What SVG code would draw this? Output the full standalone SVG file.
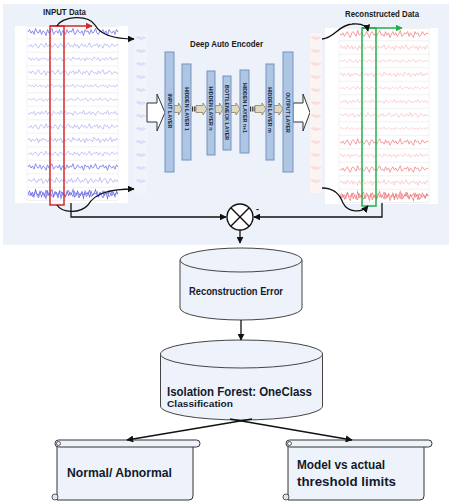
<svg xmlns="http://www.w3.org/2000/svg" xmlns:xlink="http://www.w3.org/1999/xlink" width="449" height="502" viewBox="0 0 449 502">
<style>
.wb{fill:none;stroke:#8383ee;stroke-width:0.5}
.wbd{fill:none;stroke:#6b6be8;stroke-width:0.7}
.wr{fill:none;stroke:#f29a9a;stroke-width:0.5}
.wrd{fill:none;stroke:#ee7f7f;stroke-width:0.7}
.wsb{fill:none;stroke:#c3c7f4;stroke-width:0.5}
.wsr{fill:none;stroke:#f5c4c4;stroke-width:0.5}
.frame{fill:none;stroke:#dedede;stroke-width:0.4}
.layer{fill:#aec5e4;stroke:#7393c0;stroke-width:1}
.lt{font-family:"Liberation Sans",Arial,sans-serif;font-weight:bold;font-size:5.3px;fill:#1f2a3c}
.tan{fill:#e2dabf;stroke:#7d7456;stroke-width:0.7}
.dots{stroke:#333;stroke-width:5;stroke-dasharray:1 0.8}
.hollow{fill:#fff;stroke:#333;stroke-width:1}
.con{fill:none;stroke:#111;stroke-width:1.3}
.cyl{fill:#eef3fb;stroke:#444;stroke-width:1}
.scr{fill:#eef3fb;stroke:#333;stroke-width:1}
.t{font-family:"Liberation Sans",Arial,sans-serif;font-weight:bold;fill:#1a1a1a}
.tb{font-family:"Liberation Sans",Arial,sans-serif;font-weight:bold;fill:#131a2c}
</style>
<defs>
<marker id="ah" viewBox="0 0 10 10" refX="9" refY="5" markerWidth="7" markerHeight="7" orient="auto" markerUnits="userSpaceOnUse"><path d="M0,0 L10,5 L0,10 z" fill="#111"/></marker>
<marker id="ahr" viewBox="0 0 10 10" refX="9" refY="5" markerWidth="7" markerHeight="7" orient="auto" markerUnits="userSpaceOnUse"><path d="M0,0 L10,5 L0,10 z" fill="#d42a2a"/></marker>
<marker id="ahg" viewBox="0 0 10 10" refX="9" refY="5" markerWidth="7" markerHeight="7" orient="auto" markerUnits="userSpaceOnUse"><path d="M0,0 L10,5 L0,10 z" fill="#22b04b"/></marker>
<polyline id="wa" points="0,0 1.5,-2 3,1 4.5,-1 6,2 7.5,-3 9,0 10.5,1 12,-2 13.5,2 15,-1 16.5,0 18,3 19.5,-2 21,1 22.5,-1 24,-3 25.5,2 27,0 28.5,-1 30,1 31.5,-2 33,3 34.5,-1 36,0 37.5,2 39,-2 40.5,1 42,-1 43.5,0 45,-3 46.5,2 48,1 49.5,-2 51,0 52.5,1 54,-1 55.5,3 57,-2 58.5,0 60,-1 61.5,2 63,-2 64.5,1 66,0 67.5,-3 69,1 70.5,2 72,-1 73.5,0 75,-2 76.5,1 78,-1 79.5,3 81,-2 82.5,0 84,1 85.5,-1 87,2 88.5,-2 90,0"/>
<polyline id="wb" points="0,0 1.5,1 3,-1 4.5,2 6,0 7.5,-2 9,1 10.5,3 12,-1 13.5,-2 15,0 16.5,2 18,-3 19.5,1 21,0 22.5,-1 24,2 25.5,1 27,-2 28.5,0 30,3 31.5,-1 33,-2 34.5,1 36,0 37.5,2 39,-1 40.5,-3 42,1 43.5,0 45,2 46.5,-2 48,1 49.5,-1 51,3 52.5,0 54,-2 55.5,1 57,-1 58.5,2 60,0 61.5,-3 63,2 64.5,1 66,-1 67.5,0 69,-2 70.5,2 72,-1 73.5,1 75,3 76.5,-2 78,0 79.5,-1 81,2 82.5,1 84,-2 85.5,0 87,1 88.5,-1 90,0"/>
<polyline id="ws" points="0,0 1,-1.5 2,1 3,-2 4,1.5 5,-1 6,2 7,-1.5 8,1 9,-1 10,0"/>
</defs>

<rect id="panel" x="3" y="4" width="446" height="241" fill="#edf2fa"/>

<g id="input-data">
<rect x="15" y="26" width="113" height="177" fill="#fff"/>
<path class="frame" d="M27,26.5 H118 M27,38.8 H118 M27,52.3 H118 M27,65.8 H118 M27,79.3 H118 M27,92.8 H118 M27,106.3 H118 M27,119.8 H118 M27,133.3 H118 M27,146.8 H118 M27,160.3 H118 M27,173.8 H118 M27,187.3 H118 M27,200.5 H118 M27,26.5 V200.5 M118,26.5 V200.5"/>
<use href="#wa" class="wbd" transform="translate(28,32) scale(1,1.2)"/>
<use href="#wb" class="wb" transform="translate(28,45.5) scale(1,0.9)"/>
<use href="#wa" class="wb" transform="translate(28,59) scale(-1,0.7) translate(-90,0)"/>
<use href="#wb" class="wb" transform="translate(28,72.5) scale(1,-0.9)"/>
<use href="#wa" class="wb" transform="translate(28,86) scale(1,0.6)"/>
<use href="#wb" class="wb" transform="translate(28,99.5) scale(-1,0.6) translate(-90,0)"/>
<use href="#wa" class="wb" transform="translate(28,113) scale(1,-0.8)"/>
<use href="#wb" class="wb" transform="translate(28,126.5) scale(1,0.9)"/>
<use href="#wa" class="wb" transform="translate(28,140) scale(-1,0.9) translate(-90,0)"/>
<use href="#wb" class="wb" transform="translate(28,153.5) scale(1,0.8)"/>
<use href="#wa" class="wbd" transform="translate(28,167) scale(1,1.1)"/>
<use href="#wb" class="wb" transform="translate(28,180.5) scale(-1,1) translate(-90,0)"/>
<use href="#wa" class="wbd" transform="translate(28,194) scale(1,1.5)"/>
<use href="#wb" class="wbd" transform="translate(28,194) scale(1,1.3)"/>
<rect x="50" y="26" width="14" height="179" fill="none" stroke="#d42a2a" stroke-width="1.5"/>
<line x1="50" y1="26" x2="92" y2="26" stroke="#d42a2a" stroke-width="1.5" marker-end="url(#ahr)"/>
<text class="t" x="43" y="15" font-size="8.5" textLength="43" lengthAdjust="spacingAndGlyphs">INPUT Data</text>
</g>

<g id="input-strip">
<rect x="135" y="33" width="12" height="160" fill="#f2f4fc"/>
<use href="#ws" class="wsb" transform="translate(136,38)"/>
<use href="#ws" class="wsb" transform="translate(136,51)"/>
<use href="#ws" class="wsb" transform="translate(136,64)"/>
<use href="#ws" class="wsb" transform="translate(136,77)"/>
<use href="#ws" class="wsb" transform="translate(136,90)"/>
<use href="#ws" class="wsb" transform="translate(136,103)"/>
<use href="#ws" class="wsb" transform="translate(136,116)"/>
<use href="#ws" class="wsb" transform="translate(136,129)"/>
<use href="#ws" class="wsb" transform="translate(136,142)"/>
<use href="#ws" class="wsb" transform="translate(136,155)"/>
<use href="#ws" class="wsb" transform="translate(136,168)"/>
<use href="#ws" class="wsb" transform="translate(136,181)"/>
</g>

<g id="encoder">
<text class="t" x="190" y="46.5" font-size="8.5" textLength="73" lengthAdjust="spacingAndGlyphs">Deep Auto Encoder</text>
<path class="hollow" d="M147,103 H157 V94 L165,112.5 L157,131 V122 H147 Z"/>
<path class="hollow" d="M293,103 H303 V94 L310,112.5 L303,131 V122 H293 Z"/>
<path class="tan" d="M174,105.5 H178.5 V103 L182,109 L178.5,115 V112.5 H174 Z"/>
<line class="dots" x1="192" y1="109" x2="196" y2="109"/>
<path class="tan" d="M196,105.5 H203 V103 L207,109 L203,115 V112.5 H196 Z"/>
<path class="tan" d="M215,105.5 H219.5 V103 L223,109 L219.5,115 V112.5 H215 Z"/>
<path class="tan" d="M231,105.5 H236 V103 L240,109 L236,115 V112.5 H231 Z"/>
<line class="dots" x1="250" y1="109" x2="255" y2="109"/>
<path class="tan" d="M255,105.5 H262 V103 L266,109 L262,115 V112.5 H255 Z"/>
<path class="tan" d="M274,105.5 H279 V103 L283,109 L279,115 V112.5 H274 Z"/>
</g>

<g id="input-layer"><rect class="layer" x="165" y="52" width="9" height="120"/><text class="lt" transform="translate(169.5,111) rotate(90)" text-anchor="middle" dominant-baseline="central">INPUT LAYER</text></g>
<g id="hidden-layer-1"><rect class="layer" x="182" y="64" width="9" height="96"/><text class="lt" transform="translate(186.5,109) rotate(90)" text-anchor="middle" dominant-baseline="central">HIDDEN LAYER 1</text></g>
<g id="hidden-layer-n"><rect class="layer" x="207" y="71" width="8" height="84"/><text class="lt" transform="translate(211,108.5) rotate(90)" text-anchor="middle" dominant-baseline="central">HIDDEN LAYER n</text></g>
<g id="bottleneck-layer"><rect class="layer" x="223" y="76" width="8" height="74"/><text class="lt" transform="translate(227,112.5) rotate(90)" text-anchor="middle" dominant-baseline="central">BOTTLENECK LAYER</text></g>
<g id="hidden-layer-n1"><rect class="layer" x="240" y="70" width="9" height="83"/><text class="lt" transform="translate(244.5,108) rotate(90)" text-anchor="middle" dominant-baseline="central">HIDDEN LAYER n+1</text></g>
<g id="hidden-layer-m"><rect class="layer" x="266" y="64" width="8" height="96"/><text class="lt" transform="translate(270,110) rotate(90)" text-anchor="middle" dominant-baseline="central">HIDDEN LAYER m</text></g>
<g id="output-layer"><rect class="layer" x="283" y="52" width="10" height="120"/><text class="lt" transform="translate(288,112.5) rotate(90)" text-anchor="middle" dominant-baseline="central">OUTPUT LAYER</text></g>

<g id="output-strip">
<rect x="310" y="33" width="12" height="160" fill="#fcf3f3"/>
<use href="#ws" class="wsr" transform="translate(311,38)"/>
<use href="#ws" class="wsr" transform="translate(311,51)"/>
<use href="#ws" class="wsr" transform="translate(311,64)"/>
<use href="#ws" class="wsr" transform="translate(311,77)"/>
<use href="#ws" class="wsr" transform="translate(311,90)"/>
<use href="#ws" class="wsr" transform="translate(311,103)"/>
<use href="#ws" class="wsr" transform="translate(311,116)"/>
<use href="#ws" class="wsr" transform="translate(311,129)"/>
<use href="#ws" class="wsr" transform="translate(311,142)"/>
<use href="#ws" class="wsr" transform="translate(311,155)"/>
<use href="#ws" class="wsr" transform="translate(311,168)"/>
<use href="#ws" class="wsr" transform="translate(311,181)"/>
</g>

<g id="reconstructed-data">
<rect x="325" y="28" width="113" height="176" fill="#fff"/>
<path class="frame" d="M339,28.5 H429 M339,40.8 H429 M339,54.3 H429 M339,67.8 H429 M339,81.3 H429 M339,94.8 H429 M339,108.3 H429 M339,121.8 H429 M339,135.3 H429 M339,148.8 H429 M339,162.3 H429 M339,175.8 H429 M339,189.3 H429 M339,202.5 H429 M339,28.5 V202.5 M429,28.5 V202.5"/>
<use href="#wb" class="wrd" transform="translate(340,34) scale(0.98,1.2)"/>
<use href="#wa" class="wr" transform="translate(340,47.5) scale(0.98,0.9)"/>
<use href="#wb" class="wr" transform="translate(340,61) scale(0.98,-0.6)"/>
<use href="#wa" class="wr" transform="translate(340,74.5) scale(-0.98,0.8) translate(-90,0)"/>
<use href="#wb" class="wr" transform="translate(340,88) scale(0.98,0.6)"/>
<use href="#wa" class="wr" transform="translate(340,101.5) scale(0.98,-0.7)"/>
<use href="#wb" class="wr" transform="translate(340,115) scale(-0.98,0.8) translate(-90,0)"/>
<use href="#wa" class="wr" transform="translate(340,128.5) scale(0.98,0.5)"/>
<use href="#wb" class="wrd" transform="translate(340,142) scale(0.98,1.1)"/>
<use href="#wa" class="wr" transform="translate(340,155.5) scale(-0.98,0.7) translate(-90,0)"/>
<use href="#wb" class="wrd" transform="translate(340,169) scale(0.98,1.1)"/>
<use href="#wa" class="wr" transform="translate(340,182.5) scale(0.98,0.9)"/>
<use href="#wb" class="wrd" transform="translate(340,196) scale(0.98,1.5)"/>
<use href="#wa" class="wrd" transform="translate(340,196) scale(0.98,1.3)"/>
<rect x="362" y="28" width="14" height="178" fill="none" stroke="#22b04b" stroke-width="1.5"/>
<line x1="362" y1="28" x2="402" y2="28" stroke="#22b04b" stroke-width="1.5" marker-end="url(#ahg)"/>
<text class="t" x="345" y="17" font-size="8.5" textLength="74" lengthAdjust="spacingAndGlyphs">Reconstructed Data</text>
</g>

<g id="subtract">
<circle cx="240" cy="217" r="13" fill="#fff" stroke="#111" stroke-width="1.4"/>
<path d="M230.8,207.8 L249.2,226.2 M249.2,207.8 L230.8,226.2" stroke="#111" stroke-width="1.4"/>
<text class="t" x="256" y="212" font-size="9">-</text>
</g>

<g id="reconstruction-error">
<path class="cyl" d="M180,260 V308 A61,12 0 0 0 302,308 V260 Z"/>
<ellipse class="cyl" cx="241" cy="260" rx="61" ry="12"/>
<text class="tb" x="189" y="295" font-size="10" textLength="94" lengthAdjust="spacingAndGlyphs">Reconstruction Error</text>
</g>

<g id="isolation-forest">
<path class="cyl" d="M160.5,354 V406 A81,14 0 0 0 322.5,406 V354 Z"/>
<ellipse class="cyl" cx="241.5" cy="354" rx="81" ry="14"/>
<text class="tb" x="167" y="396" font-size="12" textLength="145" lengthAdjust="spacingAndGlyphs">Isolation Forest: OneClass</text>
<text class="tb" x="167" y="406.5" font-size="8.5" textLength="66" lengthAdjust="spacingAndGlyphs">Classification</text>
</g>

<g id="normal-abnormal">
<path class="scr" d="M57,444 V500 H189 Q193,500 193,496 V444 Z"/>
<rect class="scr" x="55" y="440" width="145" height="7" rx="3.5"/>
<circle cx="58.5" cy="443.5" r="2" fill="#eef3fb" stroke="#333" stroke-width="0.8"/>
<circle cx="55" cy="497" r="3" fill="#dfe6f2" stroke="#333" stroke-width="0.8"/>
<text class="tb" x="67" y="477" font-size="12" textLength="105" lengthAdjust="spacingAndGlyphs">Normal/ Abnormal</text>
</g>

<g id="model-vs-actual">
<path class="scr" d="M288,444 V500 H420 Q424,500 424,496 V444 Z"/>
<rect class="scr" x="286" y="440" width="146" height="7" rx="3.5"/>
<circle cx="289.5" cy="443.5" r="2" fill="#eef3fb" stroke="#333" stroke-width="0.8"/>
<circle cx="286" cy="497" r="3" fill="#dfe6f2" stroke="#333" stroke-width="0.8"/>
<text class="tb" x="297" y="469" font-size="12" textLength="88" lengthAdjust="spacingAndGlyphs">Model vs actual</text>
<text class="tb" x="297" y="486" font-size="12" textLength="99" lengthAdjust="spacingAndGlyphs">threshold limits</text>
</g>

<g id="connectors">
<path class="con" d="M57,26 C62,16 88,14 95,25 C100,34 112,39 134,39" marker-end="url(#ah)"/>
<path class="con" d="M57,205 C62,213 80,214 88,205 C95,193 110,189 134,189" marker-end="url(#ah)"/>
<path class="con" d="M322,39 C335,38 338,25 352,24 C362,23 367,26 368,31" marker-end="url(#ah)"/>
<path class="con" d="M322,188 C335,188 340,195 343,203 C348,213 362,213 368,206" marker-end="url(#ah)"/>
<path class="con" d="M71,203 V217 H226" marker-end="url(#ah)"/>
<path class="con" d="M382,203 V217 H254" marker-end="url(#ah)"/>
<path class="con" d="M240,230 V243" marker-end="url(#ah)"/>
<path class="con" d="M241,320 V340" marker-end="url(#ah)"/>
<path class="con" d="M252,419 L127,440" marker-end="url(#ah)"/>
<path class="con" d="M230,419 L352,440" marker-end="url(#ah)"/>
</g>
</svg>
